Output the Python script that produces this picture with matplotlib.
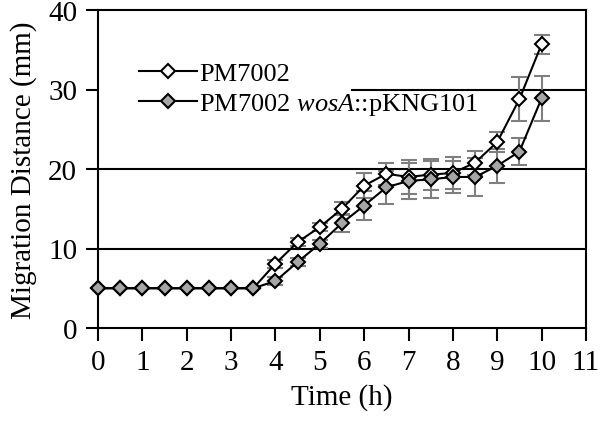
import numpy as np
import matplotlib.pyplot as plt
from matplotlib.patches import Rectangle

plt.rcParams["font.family"] = ["Liberation Serif", "DejaVu Serif"]
plt.rcParams["mathtext.fontset"] = "custom"
plt.rcParams["mathtext.rm"] = "Liberation Serif"
plt.rcParams["mathtext.it"] = "Liberation Serif:italic"

time_h = [0, 0.5, 1, 1.5, 2, 2.5, 3, 3.5, 4, 4.5, 5, 5.5, 6, 6.5, 7, 7.5, 8, 8.5, 9, 9.5, 10]
wt_mean = [5, 5, 5, 5, 5, 5, 5, 5, 8.1, 10.8, 12.7, 15.0, 17.9, 19.4, 19.0, 19.3, 19.5, 20.8, 23.4, 28.8, 35.7]
wt_err = [0, 0, 0, 0, 0, 0, 0, 0, 0.5, 0.5, 0.5, 0.8, 1.6, 1.4, 2.1, 2.0, 2.0, 1.5, 1.2, 2.8, 1.2]
mut_mean = [5, 5, 5, 5, 5, 5, 5, 5, 5.9, 8.3, 10.6, 13.2, 15.4, 17.7, 18.5, 18.7, 19.0, 19.0, 20.4, 22.2, 28.9]
mut_err = [0, 0, 0, 0, 0, 0, 0, 0, 0.5, 0.5, 0.5, 1.1, 1.8, 2.1, 2.3, 2.3, 2.0, 2.4, 2.1, 1.7, 2.8]
labels = ["PM7002", "PM7002 $\\it{wosA}$::pKNG101"]

fig = plt.figure(figsize=(6.0, 4.27), dpi=100)
ax = fig.add_axes([98 / 600, 1 - 329 / 427, 488 / 600, 318 / 427])

for yv in [10, 20, 30]:
    ax.axhline(yv, color="black", lw=1.5, zorder=1)

# white patch behind the legend hides the left part of the 30 mm line
ax.add_patch(Rectangle((0, 27), 5.7, 6, transform=ax.transData,
                       facecolor="white", edgecolor="none", zorder=1.5))

ax.errorbar(time_h, wt_mean, yerr=wt_err, fmt="none", ecolor="#7f7f7f",
            elinewidth=1.5, capsize=6, capthick=1.5, zorder=2)
ax.errorbar(time_h, mut_mean, yerr=mut_err, fmt="none", ecolor="#7f7f7f",
            elinewidth=1.5, capsize=6, capthick=1.5, zorder=2)
ax.plot(time_h, wt_mean, "-D", color="black", lw=1.5, ms=7.5, mfc="white",
        mec="black", mew=1.5, label=labels[0], zorder=3, clip_on=False)
ax.plot(time_h, mut_mean, "-D", color="black", lw=1.5, ms=7.5, mfc="#a6a6a6",
        mec="black", mew=1.5, label=labels[1], zorder=4, clip_on=False)

ax.set_xlim(0, 11)
ax.set_ylim(0, 40)
ax.set_xticks(range(0, 12))
ax.set_yticks(range(0, 41, 10))
ax.tick_params(direction="out", length=9, width=1.5, labelsize=21, pad=6)
for s in ax.spines.values():
    s.set_linewidth(1.5)

ax.set_xlabel("Time (h)", fontsize=21, labelpad=6)
ax.set_ylabel("Migration Distance (mm)", fontsize=21, labelpad=8)

leg = ax.legend(loc="upper left", bbox_to_anchor=(0.04, 0.905), fontsize=19,
                frameon=False, handlelength=2.2, handletextpad=0.1,
                labelspacing=0.25, borderpad=0.3)
leg.set_zorder(5)

fig.savefig("out.png", dpi=100)
